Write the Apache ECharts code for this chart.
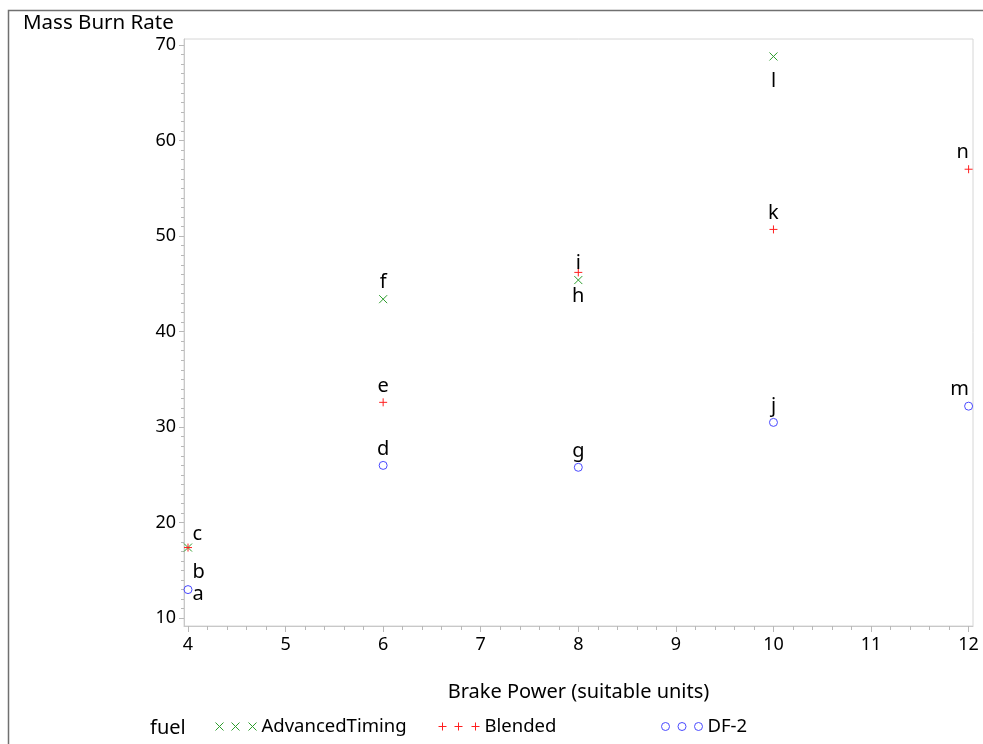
<!DOCTYPE html>
<html>
<head>
<meta charset="utf-8">
<script src="https://cdn.jsdelivr.net/npm/echarts@6/dist/echarts.min.js"></script>
<style>
  html, body { margin: 0; padding: 0; background: #fff; }
  #chart { width: 983px; height: 744px; }
</style>
</head>
<body>
<div id="chart"></div>
<script>
// Brake power (x) and mass burn rate (y) for each fuel, with point labels
const advX = [4, 6, 8, 10];
const advY = [17.4, 43.4, 45.4, 68.8];
const advLabels = ['c', 'f', 'h', 'l'];

const blendX = [4, 6, 8, 10, 12];
const blendY = [17.4, 32.6, 46.2, 50.7, 57.0];
const blendLabels = ['b', 'e', 'i', 'k', 'n'];

const df2X = [4, 6, 8, 10, 12];
const df2Y = [13.0, 26.0, 25.8, 30.5, 32.2];
const df2Labels = ['a', 'd', 'g', 'j', 'm'];

const fuelNames = ['AdvancedTiming', 'Blended', 'DF-2'];

const xTicks = [4, 5, 6, 7, 8, 9, 10, 11, 12];
const yTicks = [10, 20, 30, 40, 50, 60, 70];

// minor tick positions: fifths of a unit on x, whole units on y
const xMinor = [];
for (let i = 0; i <= 40; i++) xMinor.push(+(4 + i * 0.2).toFixed(1));
const yMinor = [];
for (let v = 10; v <= 70; v++) yMinor.push(v);

const FONT = 'Noto Sans';
const colors = { adv: '#2e9e2e', blend: '#ff2020', df2: '#4a4aff' };

// label placement tweaks for crowded points
const labelPlace = {
  a: { position: 'right', distance: 0, offset: [0, 5] },
  b: { position: 'right', distance: 0, offset: [0, 25] },
  c: { position: 'right', distance: 0, offset: [0, -13] },
  h: { position: 'bottom', distance: 2, offset: [0, 0] },
  i: { position: 'top', distance: 2, offset: [0, 7] },
  l: { position: 'bottom', distance: 2, offset: [0, 8] },
  m: { position: 'top', distance: 2, offset: [-9, 0] },
  n: { position: 'top', distance: 2, offset: [-6, 0] }
};

function points(xs, ys, names) {
  return xs.map((x, i) => {
    const item = { name: names[i], value: [x, ys[i]] };
    if (labelPlace[names[i]]) item.label = labelPlace[names[i]];
    return item;
  });
}

const xMark = 'path://M0,0L8,8M8,0L0,8';
const plusMark = 'path://M4,0L4,8M0,4L8,4';

const legendIcons = {
  adv: 'path://M0,0L8,8M8,0L0,8M16,0L24,8M24,0L16,8M33,0L41,8M41,0L33,8',
  blend: 'path://M4,0L4,8M0,4L8,4M20,0L20,8M16,4L24,4M37,0L37,8M33,4L41,4',
  df2: 'path://M8,4A4,4,0,1,1,0,4A4,4,0,1,1,8,4ZM24.5,4A4,4,0,1,1,16.5,4A4,4,0,1,1,24.5,4ZM41,4A4,4,0,1,1,33,4A4,4,0,1,1,41,4Z'
};

function series(name, xs, ys, names, symbol, color, size) {
  return {
    name: name,
    type: 'scatter',
    xAxisIndex: 0,
    yAxisIndex: 0,
    symbol: symbol,
    symbolSize: size,
    clip: false,
    itemStyle: { color: 'transparent', borderColor: color, borderWidth: 1, opacity: 1 },
    label: {
      show: true,
      position: 'top',
      distance: 2,
      formatter: p => p.name,
      color: '#000',
      fontFamily: FONT,
      fontSize: 20
    },
    emphasis: { disabled: true },
    data: points(xs, ys, names)
  };
}

const legendBase = {
  orient: 'horizontal',
  top: 717,
  padding: 0,
  itemWidth: 41,
  itemHeight: 8,
  selectedMode: false,
  textStyle: { fontFamily: FONT, fontSize: 18.5, color: '#000' },
  itemStyle: { borderWidth: 1 }
};

const option = {
  animation: false,
  backgroundColor: '#fff',
  textStyle: { fontFamily: FONT },
  title: {
    text: 'Mass Burn Rate',
    left: 18,
    top: 8,
    textStyle: { fontFamily: FONT, fontSize: 20.5, fontWeight: 'normal', color: '#000' }
  },
  grid: {
    left: 184, top: 39, right: 10, bottom: 118,
    show: true, borderColor: '#d6d6d6', borderWidth: 1
  },
  legend: [
    Object.assign({}, legendBase, { left: 215, data: [{ name: fuelNames[0], icon: legendIcons.adv }] }),
    Object.assign({}, legendBase, { left: 438, data: [{ name: fuelNames[1], icon: legendIcons.blend }] }),
    Object.assign({}, legendBase, { left: 661, data: [{ name: fuelNames[2], icon: legendIcons.df2 }] })
  ],
  graphic: [
    {
      type: 'rect',
      shape: { x: 8.5, y: 10.5, width: 1000, height: 800 },
      style: { fill: 'none', stroke: '#707070', lineWidth: 1.5 },
      silent: true
    },
    {
      type: 'text',
      left: 150,
      top: 718,
      style: { text: 'fuel', fontFamily: FONT, fontSize: 20, fill: '#000' }
    }
  ],
  xAxis: [
    {
      type: 'value',
      min: 3.959, max: 12.045,
      name: 'Brake Power (suitable units)',
      nameLocation: 'middle',
      nameGap: 56,
      nameTextStyle: { fontFamily: FONT, fontSize: 20, color: '#000' },
      axisLine: { show: true, lineStyle: { color: '#c8c8c8' } },
      axisTick: { show: true, length: 6, customValues: xTicks, lineStyle: { color: '#b8b8b8' } },
      axisLabel: { customValues: xTicks, fontFamily: FONT, fontSize: 18, color: '#000', margin: 10 },
      splitLine: { show: false }
    },
    {
      type: 'value',
      min: 3.959, max: 12.045,
      position: 'bottom',
      axisLine: { show: false },
      axisTick: { show: true, length: 4, customValues: xMinor, lineStyle: { color: '#b8b8b8' } },
      axisLabel: { show: false },
      splitLine: { show: false }
    }
  ],
  yAxis: [
    {
      type: 'value',
      min: 9.19, max: 70.63,
      axisLine: { show: true, lineStyle: { color: '#c8c8c8' } },
      axisTick: { show: true, length: 5, customValues: yTicks, lineStyle: { color: '#b8b8b8' } },
      axisLabel: { customValues: yTicks, fontFamily: FONT, fontSize: 18, color: '#000', margin: 8 },
      splitLine: { show: false }
    },
    {
      type: 'value',
      min: 9.19, max: 70.63,
      position: 'left',
      axisLine: { show: false },
      axisTick: { show: true, length: 3, customValues: yMinor, lineStyle: { color: '#b8b8b8' } },
      axisLabel: { show: false },
      splitLine: { show: false }
    }
  ],
  series: [
    series(fuelNames[0], advX, advY, advLabels, xMark, colors.adv, 8),
    series(fuelNames[1], blendX, blendY, blendLabels, plusMark, colors.blend, 8),
    series(fuelNames[2], df2X, df2Y, df2Labels, 'circle', colors.df2, 8)
  ]
};

const chart = echarts.init(document.getElementById('chart'), null, { renderer: 'canvas' });
chart.setOption(option);
</script>
</body>
</html>
